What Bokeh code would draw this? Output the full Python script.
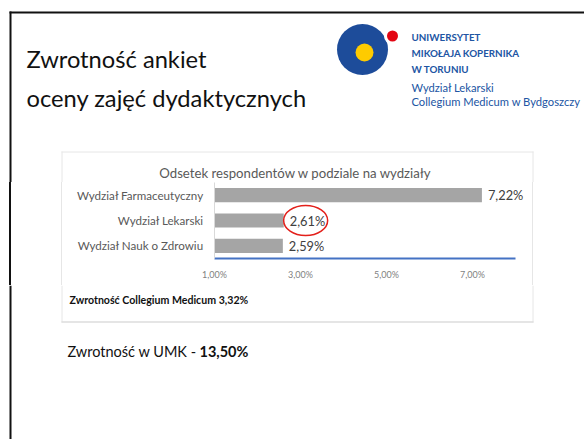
from bokeh.plotting import figure
from bokeh.layouts import column, row
from bokeh.models import (Range1d, Label, LabelSet, ColumnDataSource, FixedTicker)
from bokeh.core.properties import value
from bokeh.embed import file_html
from bokeh.resources import INLINE

# ---------------- data ----------------
slide_title_1 = "Zwrotność ankiet"
slide_title_2 = "oceny zajęć dydaktycznych"
chart_title = "Odsetek respondentów w podziale na wydziały"
categories = ["Wydział Farmaceutyczny", "Wydział Lekarski", "Wydział Nauk o Zdrowiu"]
values = [7.22, 2.61, 2.59]
x_start = 1.0
x_end = 8.0
tick_values = [1, 3, 5, 7]
tick_labels = ["1,00%", "3,00%", "5,00%", "7,00%"]
highlighted = "Wydział Lekarski"
cm_label = "Zwrotność Collegium Medicum"
cm_value = 3.32
umk_label = "Zwrotność w UMK - "
umk_value = 13.50
logo_bold = ["UNIWERSYTET", "MIKOŁAJA KOPERNIKA", "W TORUNIU"]
logo_regular = ["Wydział Lekarski", "Collegium Medicum w Bydgoszczy"]


def pct(v):
    return f"{v:.2f}%".replace(".", ",")


# ---------------- styles ----------------
FONT = "Lato"
BLACK = "#111111"
GRAY_TXT = "#595959"
BAR = "#a5a5a5"
AXIS_BLUE = "#4472c4"
LOGO_BLUE = "#1d4c9a"
LOGO_TXT = "#2155a3"
FAINT = "#e6e6e6"
W, H = 584, 439
BOX_L, BOX_R, BOX_T, BOX_B = 62, 532, 152, 321
CH_T, CH_B = 182, 285          # page rows occupied by the chart figure


def page_fig(y0, y1):
    f = figure(width=W, height=y1 - y0,
               x_range=Range1d(0, W), y_range=Range1d(y1, y0),
               x_axis_location=None, y_axis_location=None,
               toolbar_location=None, output_backend="svg", min_border=0)
    f.grid.visible = False
    f.outline_line_color = None
    f.background_fill_color = "white"
    f.border_fill_color = "white"
    return f


def add_text(f, x, y, text, size, color=BLACK, style="normal", align="left", font=FONT):
    f.add_layout(Label(x=x, y=y, text=text, text_font=font, text_font_size=f"{size}px",
                       text_color=color, text_font_style=style, text_align=align,
                       text_baseline="middle"))


def slide_edge(f, y0, y1):
    f.segment(x0=10, y0=y0, x1=10, y1=y1, line_color=BLACK, line_width=2)


def box_sides(f, y0, y1):
    f.segment(x0=[BOX_L - 0.5, BOX_R + 0.5], y0=[y0, y0], x1=[BOX_L - 0.5, BOX_R + 0.5],
              y1=[y1, y1], line_color=FAINT, line_width=1)


# ---------------- top (header + chart title) ----------------
top = page_fig(0, CH_T)
slide_edge(top, 11, CH_T)
top.segment(x0=9, y0=12, x1=W, y1=12, line_color=BLACK, line_width=2)
top.segment(x0=BOX_L - 1, y0=BOX_T - 0.5, x1=BOX_R + 1, y1=BOX_T - 0.5, line_color=FAINT, line_width=1)
box_sides(top, BOX_T - 1, CH_T)
add_text(top, 26, 58, slide_title_1, 23.7)
add_text(top, 26, 97.5, slide_title_2, 23.7)
# logo
top.circle(x=362, y=49, radius=25.5, fill_color=LOGO_BLUE, line_color=None)
top.circle(x=392, y=35.5, radius=8.5, fill_color="white", line_color=None)
top.circle(x=392, y=35.5, radius=5.5, fill_color="#e30613", line_color=None)
top.circle(x=364, y=52, radius=9, fill_color="#fecb00", line_color=None)
for i, t in enumerate(logo_bold):
    add_text(top, 411, 36 + 16 * i, t, 9.8, color=LOGO_TXT, style="bold")
for i, t in enumerate(logo_regular):
    add_text(top, 411, 86.5 + 14.5 * i, t, 11.2, color=LOGO_TXT)
add_text(top, 295, 172.5, chart_title, 13.2, color=GRAY_TXT, align="center")

# ---------------- chart ----------------
n = len(categories)
pos = list(range(n))  # 0 = top category
css_bg = (f"linear-gradient({BLACK},{BLACK}) 9px 0/2px 100% no-repeat, "
          f"linear-gradient({FAINT},{FAINT}) {BOX_L - 1}px 0/1px 100% no-repeat, "
          f"linear-gradient({FAINT},{FAINT}) {BOX_R}px 0/1px 100% no-repeat, #ffffff")
chart = figure(width=W, height=CH_B - CH_T,
               y_range=Range1d(n - 0.5, -0.5),
               x_range=Range1d(x_start, 8.35),
               toolbar_location=None, output_backend="svg",
               min_border_left=214, min_border_right=W - 530,
               min_border_top=0, min_border_bottom=CH_B - 258,
               styles={"background": css_bg})
chart.grid.visible = False
chart.outline_line_color = None
chart.background_fill_color = "white"
chart.border_fill_color = None

src = ColumnDataSource(dict(pos=pos, cat=categories, val=values,
                            lab=[pct(v) for v in values]))
chart.hbar(y="pos", left=x_start, right="val", height=0.56, source=src,
           fill_color=BAR, line_color=None)
chart.add_layout(LabelSet(x="val", y="pos", text="lab", source=src, x_offset=6,
                          text_baseline="middle", text_font=value(FONT),
                          text_font_size="12.8px", text_color="#404040"))
hi = categories.index(highlighted)
chart.ellipse(x=[values[hi] + 0.51], y=[pos[hi]], width=44, height=30,
              width_units="screen", height_units="screen",
              fill_color=None, line_color="#e3201b", line_width=1.5)

xa = chart.xaxis[0]
xa.bounds = (x_start, x_end)
xa.ticker = FixedTicker(ticks=tick_values)
xa.major_label_overrides = {t: l for t, l in zip(tick_values, tick_labels)}
xa.axis_line_color = AXIS_BLUE
xa.axis_line_width = 2
xa.major_tick_line_color = None
xa.minor_tick_line_color = None
xa.major_label_text_font = FONT
xa.major_label_text_font_size = "9px"
xa.major_label_text_color = "#7f7f7f"
xa.major_label_standoff = 4

ya = chart.yaxis[0]
ya.ticker = FixedTicker(ticks=pos)
ya.major_label_overrides = {p: c for p, c in zip(pos, categories)}
ya.axis_line_color = "#d9d9d9"
ya.major_tick_line_color = None
ya.minor_tick_line_color = None
ya.major_label_text_font = FONT
ya.major_label_text_font_size = "11.6px"
ya.major_label_text_color = GRAY_TXT
ya.major_label_standoff = 5

# ---------------- bottom (note + UMK line) ----------------
bottom = page_fig(CH_B, H)
slide_edge(bottom, CH_B, H)
box_sides(bottom, CH_B, BOX_B + 1)
bottom.segment(x0=BOX_L - 1, y0=BOX_B + 0.5, x1=BOX_R + 1, y1=BOX_B + 0.5,
               line_color="#dcdcdc", line_width=1.5)
add_text(bottom, 69, 299, f"{cm_label} {pct(cm_value)}", 10.6, style="bold")
add_text(bottom, 67, 351, umk_label, 14.5)
add_text(bottom, 199, 351, pct(umk_value), 14.5, style="bold")

layout = column(top, row(chart), bottom)

open("out.html", "w").write(file_html(layout, INLINE))
